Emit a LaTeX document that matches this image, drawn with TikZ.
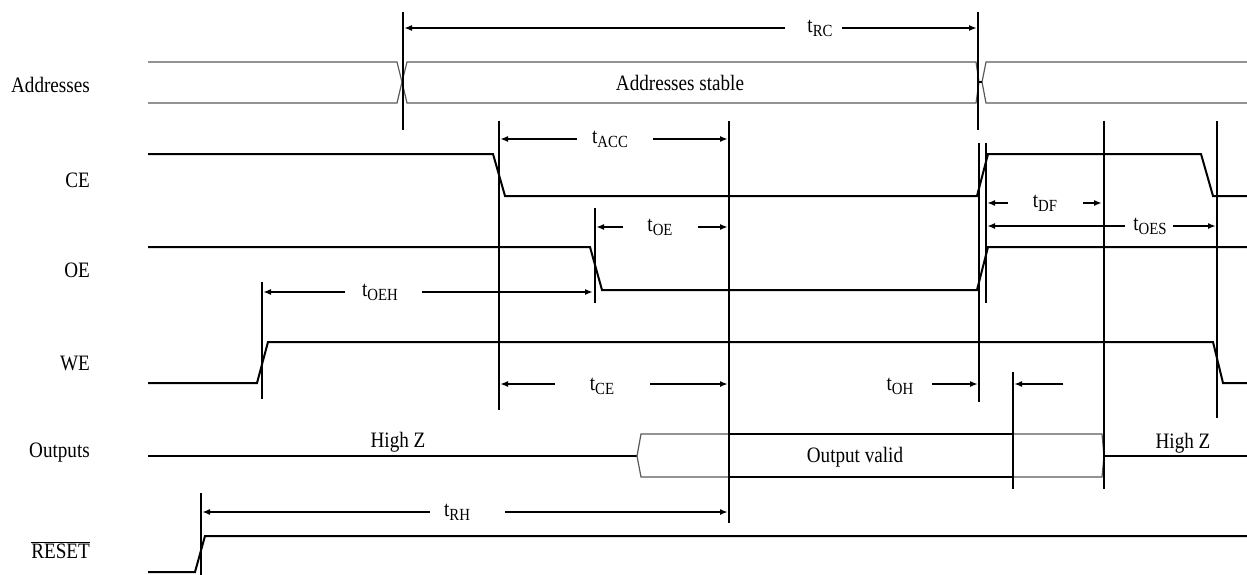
\documentclass[tikz,border=0pt]{standalone}
\usepackage{fontspec}
\setmainfont{Liberation Serif}[FakeStretch=0.87]
\usetikzlibrary{arrows.meta}
\newcommand\tsub[1]{t\raisebox{-4pt}{\fontsize{17}{18}\selectfont #1}}
\begin{document}
\begin{tikzpicture}[x=1pt,y=-1pt,
  sig/.style={line width=2pt, line join=miter},
  bus/.style={line width=1.2pt, draw=black!65},
  vline/.style={line width=2pt},
  dim/.style={line width=2pt, -{Latex[length=8pt,width=6pt]}},
  lbl/.style={font=\fontsize{22}{24}\selectfont, inner sep=0pt},
  siglabel/.style={lbl, anchor=east}]
\useasboundingbox (0,0) rectangle (1247,575);
% signal names
\node[siglabel] (lAddr) at (90,85) {Addresses};
\node[siglabel] (lCE) at (90,180) {CE};
\node[siglabel] (lOE) at (90,270) {OE};
\node[siglabel] (lWE) at (90,363) {WE};
\node[siglabel] (lOut) at (90,453) {Outputs};
\node[siglabel] (lRst) at (90,550) {$\overline{\mbox{RESET}}$};
% address bus
\draw[bus] (148,62) -- (397,62) -- (402,82) -- (397,103) -- (148,103);
\draw[bus] (976,62) -- (407,62) -- (402,82) -- (407,103) -- (976,103) -- (979,82) -- cycle;
\draw[bus] (1247,62) -- (986,62) -- (982,82) -- (986,103) -- (1247,103);
\draw[sig] (979,82) -- (982,82);
\node[lbl] (stable) at (680,83) {Addresses stable};
% CE, OE, WE
\draw[sig] (148,154) -- (493,154) -- (505,196) -- (977,196) -- (988,154) -- (1201,154) -- (1213,196) -- (1247,196);
\draw[sig] (148,247) -- (590,247) -- (602,290) -- (977,290) -- (988,247) -- (1247,247);
\draw[sig] (148,383) -- (257,383) -- (268,342) -- (1213,342) -- (1223,383) -- (1247,383);
% outputs
\draw[sig] (148,456) -- (637,456);
\draw[bus] (1102,434) -- (641,434) -- (637,456) -- (641,477) -- (1102,477) -- (1104,456) -- cycle;
\draw[sig] (730,434) -- (1013,434);
\draw[sig] (730,477) -- (1013,477);
\draw[sig] (1104,456) -- (1247,456);
\node[lbl] (hz1) at (398,442) {High Z};
\node[lbl] (hz2) at (1183,443) {High Z};
\node[lbl] (valid) at (855,457) {Output valid};
% reset
\draw[sig] (148,572) -- (195,572) -- (205,536) -- (1247,536);
% vertical reference lines
\draw[vline] (403,12) -- (403,130);
\draw[vline] (978,12) -- (978,130);
\draw[vline] (499,121) -- (499,410);
\draw[vline] (729,121) -- (729,523);
\draw[vline] (595,208) -- (595,303);
\draw[vline] (262,282) -- (262,399);
\draw[vline] (979,143) -- (979,402);
\draw[vline] (986,143) -- (986,303);
\draw[vline] (1104,121) -- (1104,489);
\draw[vline] (1217,121) -- (1217,418);
\draw[vline] (1013,372) -- (1013,489);
\draw[vline] (201,493) -- (201,575);
% timing dimensions
\node[lbl] (tRC) at (820,28) {\tsub{RC}};
\draw[dim] (785,28) -- (404,28);
\draw[dim] (842,28) -- (977,28);
\node[lbl] (tACC) at (610,139) {\tsub{ACC}};
\draw[dim] (577,139) -- (500,139);
\draw[dim] (653,139) -- (728,139);
\node[lbl] (tOE) at (660,227) {\tsub{OE}};
\draw[dim] (623,227) -- (596,227);
\draw[dim] (698,227) -- (728,227);
\node[lbl] (tOEH) at (380,292) {\tsub{OEH}};
\draw[dim] (345,292) -- (263,292);
\draw[dim] (422,292) -- (593,292);
\node[lbl] (tDF) at (1045,203) {\tsub{DF}};
\draw[dim] (1008,203) -- (987,203);
\draw[dim] (1083,203) -- (1102,203);
\node[lbl] (tOES) at (1150,226) {\tsub{OES}};
\draw[dim] (1125,226) -- (987,226);
\draw[dim] (1173,226) -- (1216,226);
\node[lbl] (tCE) at (602,386) {\tsub{CE}};
\draw[dim] (555,384) -- (500,384);
\draw[dim] (650,384) -- (728,384);
\node[lbl] (tOH) at (900,386) {\tsub{OH}};
\draw[dim] (932,384) -- (978,384);
\draw[dim] (1063,384) -- (1014,384);
\node[lbl] (tRH) at (457,512) {\tsub{RH}};
\draw[dim] (430,512) -- (202,512);
\draw[dim] (505,512) -- (728,512);
\end{tikzpicture}
\end{document}
